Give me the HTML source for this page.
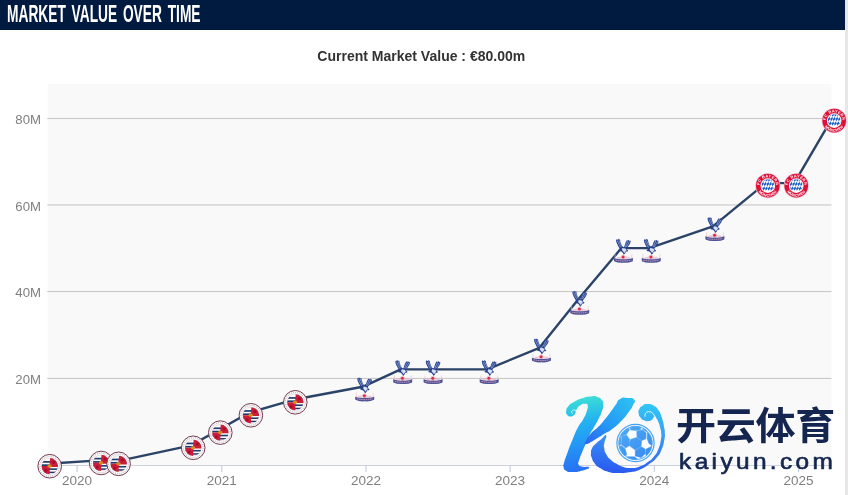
<!DOCTYPE html>
<html lang="en"><head><meta charset="utf-8"><title>Market Value Over Time</title>
<style>
html,body{margin:0;padding:0;background:#fff;}
body{width:848px;height:495px;position:relative;overflow:hidden;font-family:"Liberation Sans","Noto Sans CJK SC",sans-serif;}
.strip{position:absolute;left:845px;top:0;width:3px;height:495px;background:#e7e7e7;}
.hdr{position:absolute;left:0;top:0;width:845px;height:29.5px;background:#011b40;}
.hdr h2{margin:0;position:absolute;left:7.3px;top:1px;height:29px;line-height:27px;font-size:23.6px;font-weight:700;color:#fff;white-space:nowrap;transform-origin:0 50%;transform:scaleX(0.583);letter-spacing:0;word-spacing:3.3px;}
.ttl{position:absolute;left:0;top:46px;width:842px;text-align:center;font-size:14.6px;font-weight:700;color:#333;line-height:20px;white-space:nowrap;}
.ttl span{display:inline-block;transform:scaleX(0.96);}
svg.chart{position:absolute;left:0;top:0;}
svg.chart text{font-family:"Liberation Sans",sans-serif;font-size:13.2px;fill:#7f7f7f;}
svg.chart text.cjk{font-family:"Liberation Sans","Noto Sans CJK SC",sans-serif;}
</style></head>
<body>
<div class="strip"></div>
<div class="hdr"><h2>MARKET VALUE OVER TIME</h2></div>
<div class="ttl"><span>Current Market Value : €80.00m</span></div>
<svg class="chart" width="848" height="495" viewBox="0 0 848 495">
<rect x="47.7" y="84" width="783.8" height="381.5" fill="#f9f9f9"/>
<rect x="47.3" y="117.95" width="784.2" height="1.1" fill="#c8c8c8"/><rect x="47.3" y="204.40" width="784.2" height="1.1" fill="#c8c8c8"/><rect x="47.3" y="291.00" width="784.2" height="1.1" fill="#c8c8c8"/><rect x="47.3" y="377.90" width="784.2" height="1.1" fill="#c8c8c8"/>
<rect x="48" y="465" width="783.5" height="1" fill="#ccd1dd"/>
<rect x="76.6" y="465" width="1" height="7" fill="#bcc5d8"/><rect x="221.3" y="465" width="1" height="7" fill="#bcc5d8"/><rect x="365.5" y="465" width="1" height="7" fill="#bcc5d8"/><rect x="509.6" y="465" width="1" height="7" fill="#bcc5d8"/><rect x="653.8" y="465" width="1" height="7" fill="#bcc5d8"/><rect x="798.1" y="465" width="1" height="7" fill="#bcc5d8"/>
<g><text x="41" y="123.9" text-anchor="end">80M</text><text x="41" y="210.6" text-anchor="end">60M</text><text x="41" y="297.2" text-anchor="end">40M</text><text x="41" y="383.9" text-anchor="end">20M</text></g>
<g><text x="77.1" y="484.8" text-anchor="middle" style="font-size:13.5px">2020</text><text x="221.8" y="484.8" text-anchor="middle" style="font-size:13.5px">2021</text><text x="366.0" y="484.8" text-anchor="middle" style="font-size:13.5px">2022</text><text x="510.1" y="484.8" text-anchor="middle" style="font-size:13.5px">2023</text><text x="654.3" y="484.8" text-anchor="middle" style="font-size:13.5px">2024</text><text x="798.6" y="484.8" text-anchor="middle" style="font-size:13.5px">2025</text></g>
<path d="M47.7 463.7 L99.1 460.4 L116.6 461.3 L191.2 445.3 L218.3 430.1 L248.9 412.8 L293.3 399.8 L362.7 386.8 L400.7 369.4 L431.1 369.4 L487.2 369.4 L539.4 347.8 L577.7 300.1 L621.4 248.1 L649.2 248.1 L712.9 226.4 L765.8 183.1 L794.2 183.1 L832.2 118.1" fill="none" stroke="#2a4367" stroke-width="2.4" stroke-linejoin="round" stroke-linecap="round"/>
<g><svg x="37.20" y="453.72" width="25" height="25" viewBox="0 0 25 25" overflow="visible"><circle cx="12.5" cy="12.5" r="11.8" fill="#fff" stroke="#6a2f48" stroke-width="0.95"/>
<circle cx="12.5" cy="12.5" r="9.9" fill="none" stroke="#cfc6cc" stroke-width="1.5" stroke-dasharray="1.1 0.9"/>
<clipPath id="rdc0"><circle cx="12.5" cy="12.5" r="8.1"/></clipPath>
<g clip-path="url(#rdc0)">
<rect x="4" y="4" width="17" height="17" fill="#fff"/>
<rect x="4" y="7.3" width="17" height="1.7" fill="#1f3a6e"/>
<rect x="4" y="10.6" width="17" height="1.7" fill="#1f3a6e"/>
<rect x="4" y="14.6" width="17" height="1.6" fill="#1f3a6e"/>
<rect x="4" y="17.9" width="17" height="1.5" fill="#1f3a6e"/>
<path d="M13 4 H21 V13.2 H14.5 L12.2 12.5 Z" fill="#cb1d3a"/>
<path d="M12.4 21 H4 V12.4 H10.5 L12.8 12.6 Z" fill="#cb1d3a"/>
<circle cx="16.4" cy="8.6" r="1.5" fill="#a80c28"/>
<circle cx="8.6" cy="16.6" r="1.5" fill="#a80c28"/>
</g>
<circle cx="12.5" cy="12.5" r="8.1" fill="none" stroke="#7d3446" stroke-opacity="0.35" stroke-width="0.5"/>
<ellipse cx="12.3" cy="12.4" rx="2.2" ry="1.8" fill="#dc8a1e"/></svg>
<svg x="88.60" y="450.47" width="25" height="25" viewBox="0 0 25 25" overflow="visible"><circle cx="12.5" cy="12.5" r="11.8" fill="#fff" stroke="#6a2f48" stroke-width="0.95"/>
<circle cx="12.5" cy="12.5" r="9.9" fill="none" stroke="#cfc6cc" stroke-width="1.5" stroke-dasharray="1.1 0.9"/>
<clipPath id="rdc1"><circle cx="12.5" cy="12.5" r="8.1"/></clipPath>
<g clip-path="url(#rdc1)">
<rect x="4" y="4" width="17" height="17" fill="#fff"/>
<rect x="4" y="7.3" width="17" height="1.7" fill="#1f3a6e"/>
<rect x="4" y="10.6" width="17" height="1.7" fill="#1f3a6e"/>
<rect x="4" y="14.6" width="17" height="1.6" fill="#1f3a6e"/>
<rect x="4" y="17.9" width="17" height="1.5" fill="#1f3a6e"/>
<path d="M13 4 H21 V13.2 H14.5 L12.2 12.5 Z" fill="#cb1d3a"/>
<path d="M12.4 21 H4 V12.4 H10.5 L12.8 12.6 Z" fill="#cb1d3a"/>
<circle cx="16.4" cy="8.6" r="1.5" fill="#a80c28"/>
<circle cx="8.6" cy="16.6" r="1.5" fill="#a80c28"/>
</g>
<circle cx="12.5" cy="12.5" r="8.1" fill="none" stroke="#7d3446" stroke-opacity="0.35" stroke-width="0.5"/>
<ellipse cx="12.3" cy="12.4" rx="2.2" ry="1.8" fill="#dc8a1e"/></svg>
<svg x="106.10" y="451.33" width="25" height="25" viewBox="0 0 25 25" overflow="visible"><circle cx="12.5" cy="12.5" r="11.8" fill="#fff" stroke="#6a2f48" stroke-width="0.95"/>
<circle cx="12.5" cy="12.5" r="9.9" fill="none" stroke="#cfc6cc" stroke-width="1.5" stroke-dasharray="1.1 0.9"/>
<clipPath id="rdc2"><circle cx="12.5" cy="12.5" r="8.1"/></clipPath>
<g clip-path="url(#rdc2)">
<rect x="4" y="4" width="17" height="17" fill="#fff"/>
<rect x="4" y="7.3" width="17" height="1.7" fill="#1f3a6e"/>
<rect x="4" y="10.6" width="17" height="1.7" fill="#1f3a6e"/>
<rect x="4" y="14.6" width="17" height="1.6" fill="#1f3a6e"/>
<rect x="4" y="17.9" width="17" height="1.5" fill="#1f3a6e"/>
<path d="M13 4 H21 V13.2 H14.5 L12.2 12.5 Z" fill="#cb1d3a"/>
<path d="M12.4 21 H4 V12.4 H10.5 L12.8 12.6 Z" fill="#cb1d3a"/>
<circle cx="16.4" cy="8.6" r="1.5" fill="#a80c28"/>
<circle cx="8.6" cy="16.6" r="1.5" fill="#a80c28"/>
</g>
<circle cx="12.5" cy="12.5" r="8.1" fill="none" stroke="#7d3446" stroke-opacity="0.35" stroke-width="0.5"/>
<ellipse cx="12.3" cy="12.4" rx="2.2" ry="1.8" fill="#dc8a1e"/></svg>
<svg x="180.70" y="435.30" width="25" height="25" viewBox="0 0 25 25" overflow="visible"><circle cx="12.5" cy="12.5" r="11.8" fill="#fff" stroke="#6a2f48" stroke-width="0.95"/>
<circle cx="12.5" cy="12.5" r="9.9" fill="none" stroke="#cfc6cc" stroke-width="1.5" stroke-dasharray="1.1 0.9"/>
<clipPath id="rdc3"><circle cx="12.5" cy="12.5" r="8.1"/></clipPath>
<g clip-path="url(#rdc3)">
<rect x="4" y="4" width="17" height="17" fill="#fff"/>
<rect x="4" y="7.3" width="17" height="1.7" fill="#1f3a6e"/>
<rect x="4" y="10.6" width="17" height="1.7" fill="#1f3a6e"/>
<rect x="4" y="14.6" width="17" height="1.6" fill="#1f3a6e"/>
<rect x="4" y="17.9" width="17" height="1.5" fill="#1f3a6e"/>
<path d="M13 4 H21 V13.2 H14.5 L12.2 12.5 Z" fill="#cb1d3a"/>
<path d="M12.4 21 H4 V12.4 H10.5 L12.8 12.6 Z" fill="#cb1d3a"/>
<circle cx="16.4" cy="8.6" r="1.5" fill="#a80c28"/>
<circle cx="8.6" cy="16.6" r="1.5" fill="#a80c28"/>
</g>
<circle cx="12.5" cy="12.5" r="8.1" fill="none" stroke="#7d3446" stroke-opacity="0.35" stroke-width="0.5"/>
<ellipse cx="12.3" cy="12.4" rx="2.2" ry="1.8" fill="#dc8a1e"/></svg>
<svg x="207.80" y="420.13" width="25" height="25" viewBox="0 0 25 25" overflow="visible"><circle cx="12.5" cy="12.5" r="11.8" fill="#fff" stroke="#6a2f48" stroke-width="0.95"/>
<circle cx="12.5" cy="12.5" r="9.9" fill="none" stroke="#cfc6cc" stroke-width="1.5" stroke-dasharray="1.1 0.9"/>
<clipPath id="rdc4"><circle cx="12.5" cy="12.5" r="8.1"/></clipPath>
<g clip-path="url(#rdc4)">
<rect x="4" y="4" width="17" height="17" fill="#fff"/>
<rect x="4" y="7.3" width="17" height="1.7" fill="#1f3a6e"/>
<rect x="4" y="10.6" width="17" height="1.7" fill="#1f3a6e"/>
<rect x="4" y="14.6" width="17" height="1.6" fill="#1f3a6e"/>
<rect x="4" y="17.9" width="17" height="1.5" fill="#1f3a6e"/>
<path d="M13 4 H21 V13.2 H14.5 L12.2 12.5 Z" fill="#cb1d3a"/>
<path d="M12.4 21 H4 V12.4 H10.5 L12.8 12.6 Z" fill="#cb1d3a"/>
<circle cx="16.4" cy="8.6" r="1.5" fill="#a80c28"/>
<circle cx="8.6" cy="16.6" r="1.5" fill="#a80c28"/>
</g>
<circle cx="12.5" cy="12.5" r="8.1" fill="none" stroke="#7d3446" stroke-opacity="0.35" stroke-width="0.5"/>
<ellipse cx="12.3" cy="12.4" rx="2.2" ry="1.8" fill="#dc8a1e"/></svg>
<svg x="238.40" y="402.80" width="25" height="25" viewBox="0 0 25 25" overflow="visible"><circle cx="12.5" cy="12.5" r="11.8" fill="#fff" stroke="#6a2f48" stroke-width="0.95"/>
<circle cx="12.5" cy="12.5" r="9.9" fill="none" stroke="#cfc6cc" stroke-width="1.5" stroke-dasharray="1.1 0.9"/>
<clipPath id="rdc5"><circle cx="12.5" cy="12.5" r="8.1"/></clipPath>
<g clip-path="url(#rdc5)">
<rect x="4" y="4" width="17" height="17" fill="#fff"/>
<rect x="4" y="7.3" width="17" height="1.7" fill="#1f3a6e"/>
<rect x="4" y="10.6" width="17" height="1.7" fill="#1f3a6e"/>
<rect x="4" y="14.6" width="17" height="1.6" fill="#1f3a6e"/>
<rect x="4" y="17.9" width="17" height="1.5" fill="#1f3a6e"/>
<path d="M13 4 H21 V13.2 H14.5 L12.2 12.5 Z" fill="#cb1d3a"/>
<path d="M12.4 21 H4 V12.4 H10.5 L12.8 12.6 Z" fill="#cb1d3a"/>
<circle cx="16.4" cy="8.6" r="1.5" fill="#a80c28"/>
<circle cx="8.6" cy="16.6" r="1.5" fill="#a80c28"/>
</g>
<circle cx="12.5" cy="12.5" r="8.1" fill="none" stroke="#7d3446" stroke-opacity="0.35" stroke-width="0.5"/>
<ellipse cx="12.3" cy="12.4" rx="2.2" ry="1.8" fill="#dc8a1e"/></svg>
<svg x="282.80" y="389.80" width="25" height="25" viewBox="0 0 25 25" overflow="visible"><circle cx="12.5" cy="12.5" r="11.8" fill="#fff" stroke="#6a2f48" stroke-width="0.95"/>
<circle cx="12.5" cy="12.5" r="9.9" fill="none" stroke="#cfc6cc" stroke-width="1.5" stroke-dasharray="1.1 0.9"/>
<clipPath id="rdc6"><circle cx="12.5" cy="12.5" r="8.1"/></clipPath>
<g clip-path="url(#rdc6)">
<rect x="4" y="4" width="17" height="17" fill="#fff"/>
<rect x="4" y="7.3" width="17" height="1.7" fill="#1f3a6e"/>
<rect x="4" y="10.6" width="17" height="1.7" fill="#1f3a6e"/>
<rect x="4" y="14.6" width="17" height="1.6" fill="#1f3a6e"/>
<rect x="4" y="17.9" width="17" height="1.5" fill="#1f3a6e"/>
<path d="M13 4 H21 V13.2 H14.5 L12.2 12.5 Z" fill="#cb1d3a"/>
<path d="M12.4 21 H4 V12.4 H10.5 L12.8 12.6 Z" fill="#cb1d3a"/>
<circle cx="16.4" cy="8.6" r="1.5" fill="#a80c28"/>
<circle cx="8.6" cy="16.6" r="1.5" fill="#a80c28"/>
</g>
<circle cx="12.5" cy="12.5" r="8.1" fill="none" stroke="#7d3446" stroke-opacity="0.35" stroke-width="0.5"/>
<ellipse cx="12.3" cy="12.4" rx="2.2" ry="1.8" fill="#dc8a1e"/></svg>
<svg x="354.70" y="376.80" width="20" height="25" viewBox="0 0 20 25" overflow="visible"><path d="M2.6 2 L3.6 0.8 L4.2 1.8 L5.2 0.6 L5.8 1.6 L6.6 1.2 L7 3.8 L8.2 6.8 L9.8 9.2 L10.6 9.4 L11.2 7.4 L12.2 4.4 L13.6 1.8 L14.4 2.6 L15.4 1.6 L16 2.8 L17 2.4 L17.2 3.8 L16.4 5.8 L14.8 8 L13.2 10 L13.4 11.4 L14.8 12.4 L14.2 13.4 L12.6 13.4 L11.8 15 L10.4 16.6 L9.4 14.6 L8 13.4 L5.6 12.8 L5.4 11.6 L6.8 11 L5.6 9.4 L4.2 6.8 L3 4.2 Z" fill="#27418c"/>
<path d="M9 9.8 L10.6 10 L12.4 10.6 L13.2 12.2 L12.2 13 L11 14.8 L9.8 13.4 L8.4 11.8 Z" fill="#d6dff4"/>
<path d="M3.8 2.4 L5.4 6 L7.2 9.2 M5.4 2 L6.6 5.2 L8.4 8.4 M16.2 3.4 L14.4 6.4 L12.8 9 M14.6 2.8 L13 5.8 L11.8 8.8" stroke="#b4c5ee" stroke-width="0.6" fill="none"/>
<path d="M1.7 16 V20.4 M18.5 16 V20.4" stroke="#e6bcc8" stroke-width="0.8" stroke-opacity="0.8" fill="none"/>
<path d="M2.6 21 L3.6 19 L7 18.6 Q7.6 16.8 9.7 16.6 Q11.8 16.8 12.4 18.6 L16.4 19 L17.4 21 Z" fill="#e8a9ba" fill-opacity="0.6"/>
<circle cx="9.7" cy="18.9" r="1.5" fill="#d62f4d"/>
<path d="M0.4 19.9 Q5 21.6 10 21 Q15 21.6 19.6 19.9 L19.4 23 Q15 25 10 24.5 Q5 25 0.6 23 Z" fill="#4d5198"/>
<path d="M2.2 22 Q10 23.7 17.8 22" stroke="#dcaabd" stroke-width="0.9" fill="none" stroke-dasharray="1.5 0.7"/></svg>
<svg x="392.70" y="359.47" width="20" height="25" viewBox="0 0 20 25" overflow="visible"><path d="M2.6 2 L3.6 0.8 L4.2 1.8 L5.2 0.6 L5.8 1.6 L6.6 1.2 L7 3.8 L8.2 6.8 L9.8 9.2 L10.6 9.4 L11.2 7.4 L12.2 4.4 L13.6 1.8 L14.4 2.6 L15.4 1.6 L16 2.8 L17 2.4 L17.2 3.8 L16.4 5.8 L14.8 8 L13.2 10 L13.4 11.4 L14.8 12.4 L14.2 13.4 L12.6 13.4 L11.8 15 L10.4 16.6 L9.4 14.6 L8 13.4 L5.6 12.8 L5.4 11.6 L6.8 11 L5.6 9.4 L4.2 6.8 L3 4.2 Z" fill="#27418c"/>
<path d="M9 9.8 L10.6 10 L12.4 10.6 L13.2 12.2 L12.2 13 L11 14.8 L9.8 13.4 L8.4 11.8 Z" fill="#d6dff4"/>
<path d="M3.8 2.4 L5.4 6 L7.2 9.2 M5.4 2 L6.6 5.2 L8.4 8.4 M16.2 3.4 L14.4 6.4 L12.8 9 M14.6 2.8 L13 5.8 L11.8 8.8" stroke="#b4c5ee" stroke-width="0.6" fill="none"/>
<path d="M1.7 16 V20.4 M18.5 16 V20.4" stroke="#e6bcc8" stroke-width="0.8" stroke-opacity="0.8" fill="none"/>
<path d="M2.6 21 L3.6 19 L7 18.6 Q7.6 16.8 9.7 16.6 Q11.8 16.8 12.4 18.6 L16.4 19 L17.4 21 Z" fill="#e8a9ba" fill-opacity="0.6"/>
<circle cx="9.7" cy="18.9" r="1.5" fill="#d62f4d"/>
<path d="M0.4 19.9 Q5 21.6 10 21 Q15 21.6 19.6 19.9 L19.4 23 Q15 25 10 24.5 Q5 25 0.6 23 Z" fill="#4d5198"/>
<path d="M2.2 22 Q10 23.7 17.8 22" stroke="#dcaabd" stroke-width="0.9" fill="none" stroke-dasharray="1.5 0.7"/></svg>
<svg x="423.10" y="359.47" width="20" height="25" viewBox="0 0 20 25" overflow="visible"><path d="M2.6 2 L3.6 0.8 L4.2 1.8 L5.2 0.6 L5.8 1.6 L6.6 1.2 L7 3.8 L8.2 6.8 L9.8 9.2 L10.6 9.4 L11.2 7.4 L12.2 4.4 L13.6 1.8 L14.4 2.6 L15.4 1.6 L16 2.8 L17 2.4 L17.2 3.8 L16.4 5.8 L14.8 8 L13.2 10 L13.4 11.4 L14.8 12.4 L14.2 13.4 L12.6 13.4 L11.8 15 L10.4 16.6 L9.4 14.6 L8 13.4 L5.6 12.8 L5.4 11.6 L6.8 11 L5.6 9.4 L4.2 6.8 L3 4.2 Z" fill="#27418c"/>
<path d="M9 9.8 L10.6 10 L12.4 10.6 L13.2 12.2 L12.2 13 L11 14.8 L9.8 13.4 L8.4 11.8 Z" fill="#d6dff4"/>
<path d="M3.8 2.4 L5.4 6 L7.2 9.2 M5.4 2 L6.6 5.2 L8.4 8.4 M16.2 3.4 L14.4 6.4 L12.8 9 M14.6 2.8 L13 5.8 L11.8 8.8" stroke="#b4c5ee" stroke-width="0.6" fill="none"/>
<path d="M1.7 16 V20.4 M18.5 16 V20.4" stroke="#e6bcc8" stroke-width="0.8" stroke-opacity="0.8" fill="none"/>
<path d="M2.6 21 L3.6 19 L7 18.6 Q7.6 16.8 9.7 16.6 Q11.8 16.8 12.4 18.6 L16.4 19 L17.4 21 Z" fill="#e8a9ba" fill-opacity="0.6"/>
<circle cx="9.7" cy="18.9" r="1.5" fill="#d62f4d"/>
<path d="M0.4 19.9 Q5 21.6 10 21 Q15 21.6 19.6 19.9 L19.4 23 Q15 25 10 24.5 Q5 25 0.6 23 Z" fill="#4d5198"/>
<path d="M2.2 22 Q10 23.7 17.8 22" stroke="#dcaabd" stroke-width="0.9" fill="none" stroke-dasharray="1.5 0.7"/></svg>
<svg x="479.20" y="359.47" width="20" height="25" viewBox="0 0 20 25" overflow="visible"><path d="M2.6 2 L3.6 0.8 L4.2 1.8 L5.2 0.6 L5.8 1.6 L6.6 1.2 L7 3.8 L8.2 6.8 L9.8 9.2 L10.6 9.4 L11.2 7.4 L12.2 4.4 L13.6 1.8 L14.4 2.6 L15.4 1.6 L16 2.8 L17 2.4 L17.2 3.8 L16.4 5.8 L14.8 8 L13.2 10 L13.4 11.4 L14.8 12.4 L14.2 13.4 L12.6 13.4 L11.8 15 L10.4 16.6 L9.4 14.6 L8 13.4 L5.6 12.8 L5.4 11.6 L6.8 11 L5.6 9.4 L4.2 6.8 L3 4.2 Z" fill="#27418c"/>
<path d="M9 9.8 L10.6 10 L12.4 10.6 L13.2 12.2 L12.2 13 L11 14.8 L9.8 13.4 L8.4 11.8 Z" fill="#d6dff4"/>
<path d="M3.8 2.4 L5.4 6 L7.2 9.2 M5.4 2 L6.6 5.2 L8.4 8.4 M16.2 3.4 L14.4 6.4 L12.8 9 M14.6 2.8 L13 5.8 L11.8 8.8" stroke="#b4c5ee" stroke-width="0.6" fill="none"/>
<path d="M1.7 16 V20.4 M18.5 16 V20.4" stroke="#e6bcc8" stroke-width="0.8" stroke-opacity="0.8" fill="none"/>
<path d="M2.6 21 L3.6 19 L7 18.6 Q7.6 16.8 9.7 16.6 Q11.8 16.8 12.4 18.6 L16.4 19 L17.4 21 Z" fill="#e8a9ba" fill-opacity="0.6"/>
<circle cx="9.7" cy="18.9" r="1.5" fill="#d62f4d"/>
<path d="M0.4 19.9 Q5 21.6 10 21 Q15 21.6 19.6 19.9 L19.4 23 Q15 25 10 24.5 Q5 25 0.6 23 Z" fill="#4d5198"/>
<path d="M2.2 22 Q10 23.7 17.8 22" stroke="#dcaabd" stroke-width="0.9" fill="none" stroke-dasharray="1.5 0.7"/></svg>
<svg x="531.40" y="337.80" width="20" height="25" viewBox="0 0 20 25" overflow="visible"><path d="M2.6 2 L3.6 0.8 L4.2 1.8 L5.2 0.6 L5.8 1.6 L6.6 1.2 L7 3.8 L8.2 6.8 L9.8 9.2 L10.6 9.4 L11.2 7.4 L12.2 4.4 L13.6 1.8 L14.4 2.6 L15.4 1.6 L16 2.8 L17 2.4 L17.2 3.8 L16.4 5.8 L14.8 8 L13.2 10 L13.4 11.4 L14.8 12.4 L14.2 13.4 L12.6 13.4 L11.8 15 L10.4 16.6 L9.4 14.6 L8 13.4 L5.6 12.8 L5.4 11.6 L6.8 11 L5.6 9.4 L4.2 6.8 L3 4.2 Z" fill="#27418c"/>
<path d="M9 9.8 L10.6 10 L12.4 10.6 L13.2 12.2 L12.2 13 L11 14.8 L9.8 13.4 L8.4 11.8 Z" fill="#d6dff4"/>
<path d="M3.8 2.4 L5.4 6 L7.2 9.2 M5.4 2 L6.6 5.2 L8.4 8.4 M16.2 3.4 L14.4 6.4 L12.8 9 M14.6 2.8 L13 5.8 L11.8 8.8" stroke="#b4c5ee" stroke-width="0.6" fill="none"/>
<path d="M1.7 16 V20.4 M18.5 16 V20.4" stroke="#e6bcc8" stroke-width="0.8" stroke-opacity="0.8" fill="none"/>
<path d="M2.6 21 L3.6 19 L7 18.6 Q7.6 16.8 9.7 16.6 Q11.8 16.8 12.4 18.6 L16.4 19 L17.4 21 Z" fill="#e8a9ba" fill-opacity="0.6"/>
<circle cx="9.7" cy="18.9" r="1.5" fill="#d62f4d"/>
<path d="M0.4 19.9 Q5 21.6 10 21 Q15 21.6 19.6 19.9 L19.4 23 Q15 25 10 24.5 Q5 25 0.6 23 Z" fill="#4d5198"/>
<path d="M2.2 22 Q10 23.7 17.8 22" stroke="#dcaabd" stroke-width="0.9" fill="none" stroke-dasharray="1.5 0.7"/></svg>
<svg x="569.70" y="290.13" width="20" height="25" viewBox="0 0 20 25" overflow="visible"><path d="M2.6 2 L3.6 0.8 L4.2 1.8 L5.2 0.6 L5.8 1.6 L6.6 1.2 L7 3.8 L8.2 6.8 L9.8 9.2 L10.6 9.4 L11.2 7.4 L12.2 4.4 L13.6 1.8 L14.4 2.6 L15.4 1.6 L16 2.8 L17 2.4 L17.2 3.8 L16.4 5.8 L14.8 8 L13.2 10 L13.4 11.4 L14.8 12.4 L14.2 13.4 L12.6 13.4 L11.8 15 L10.4 16.6 L9.4 14.6 L8 13.4 L5.6 12.8 L5.4 11.6 L6.8 11 L5.6 9.4 L4.2 6.8 L3 4.2 Z" fill="#27418c"/>
<path d="M9 9.8 L10.6 10 L12.4 10.6 L13.2 12.2 L12.2 13 L11 14.8 L9.8 13.4 L8.4 11.8 Z" fill="#d6dff4"/>
<path d="M3.8 2.4 L5.4 6 L7.2 9.2 M5.4 2 L6.6 5.2 L8.4 8.4 M16.2 3.4 L14.4 6.4 L12.8 9 M14.6 2.8 L13 5.8 L11.8 8.8" stroke="#b4c5ee" stroke-width="0.6" fill="none"/>
<path d="M1.7 16 V20.4 M18.5 16 V20.4" stroke="#e6bcc8" stroke-width="0.8" stroke-opacity="0.8" fill="none"/>
<path d="M2.6 21 L3.6 19 L7 18.6 Q7.6 16.8 9.7 16.6 Q11.8 16.8 12.4 18.6 L16.4 19 L17.4 21 Z" fill="#e8a9ba" fill-opacity="0.6"/>
<circle cx="9.7" cy="18.9" r="1.5" fill="#d62f4d"/>
<path d="M0.4 19.9 Q5 21.6 10 21 Q15 21.6 19.6 19.9 L19.4 23 Q15 25 10 24.5 Q5 25 0.6 23 Z" fill="#4d5198"/>
<path d="M2.2 22 Q10 23.7 17.8 22" stroke="#dcaabd" stroke-width="0.9" fill="none" stroke-dasharray="1.5 0.7"/></svg>
<svg x="613.40" y="238.13" width="20" height="25" viewBox="0 0 20 25" overflow="visible"><path d="M2.6 2 L3.6 0.8 L4.2 1.8 L5.2 0.6 L5.8 1.6 L6.6 1.2 L7 3.8 L8.2 6.8 L9.8 9.2 L10.6 9.4 L11.2 7.4 L12.2 4.4 L13.6 1.8 L14.4 2.6 L15.4 1.6 L16 2.8 L17 2.4 L17.2 3.8 L16.4 5.8 L14.8 8 L13.2 10 L13.4 11.4 L14.8 12.4 L14.2 13.4 L12.6 13.4 L11.8 15 L10.4 16.6 L9.4 14.6 L8 13.4 L5.6 12.8 L5.4 11.6 L6.8 11 L5.6 9.4 L4.2 6.8 L3 4.2 Z" fill="#27418c"/>
<path d="M9 9.8 L10.6 10 L12.4 10.6 L13.2 12.2 L12.2 13 L11 14.8 L9.8 13.4 L8.4 11.8 Z" fill="#d6dff4"/>
<path d="M3.8 2.4 L5.4 6 L7.2 9.2 M5.4 2 L6.6 5.2 L8.4 8.4 M16.2 3.4 L14.4 6.4 L12.8 9 M14.6 2.8 L13 5.8 L11.8 8.8" stroke="#b4c5ee" stroke-width="0.6" fill="none"/>
<path d="M1.7 16 V20.4 M18.5 16 V20.4" stroke="#e6bcc8" stroke-width="0.8" stroke-opacity="0.8" fill="none"/>
<path d="M2.6 21 L3.6 19 L7 18.6 Q7.6 16.8 9.7 16.6 Q11.8 16.8 12.4 18.6 L16.4 19 L17.4 21 Z" fill="#e8a9ba" fill-opacity="0.6"/>
<circle cx="9.7" cy="18.9" r="1.5" fill="#d62f4d"/>
<path d="M0.4 19.9 Q5 21.6 10 21 Q15 21.6 19.6 19.9 L19.4 23 Q15 25 10 24.5 Q5 25 0.6 23 Z" fill="#4d5198"/>
<path d="M2.2 22 Q10 23.7 17.8 22" stroke="#dcaabd" stroke-width="0.9" fill="none" stroke-dasharray="1.5 0.7"/></svg>
<svg x="641.25" y="238.13" width="20" height="25" viewBox="0 0 20 25" overflow="visible"><path d="M2.6 2 L3.6 0.8 L4.2 1.8 L5.2 0.6 L5.8 1.6 L6.6 1.2 L7 3.8 L8.2 6.8 L9.8 9.2 L10.6 9.4 L11.2 7.4 L12.2 4.4 L13.6 1.8 L14.4 2.6 L15.4 1.6 L16 2.8 L17 2.4 L17.2 3.8 L16.4 5.8 L14.8 8 L13.2 10 L13.4 11.4 L14.8 12.4 L14.2 13.4 L12.6 13.4 L11.8 15 L10.4 16.6 L9.4 14.6 L8 13.4 L5.6 12.8 L5.4 11.6 L6.8 11 L5.6 9.4 L4.2 6.8 L3 4.2 Z" fill="#27418c"/>
<path d="M9 9.8 L10.6 10 L12.4 10.6 L13.2 12.2 L12.2 13 L11 14.8 L9.8 13.4 L8.4 11.8 Z" fill="#d6dff4"/>
<path d="M3.8 2.4 L5.4 6 L7.2 9.2 M5.4 2 L6.6 5.2 L8.4 8.4 M16.2 3.4 L14.4 6.4 L12.8 9 M14.6 2.8 L13 5.8 L11.8 8.8" stroke="#b4c5ee" stroke-width="0.6" fill="none"/>
<path d="M1.7 16 V20.4 M18.5 16 V20.4" stroke="#e6bcc8" stroke-width="0.8" stroke-opacity="0.8" fill="none"/>
<path d="M2.6 21 L3.6 19 L7 18.6 Q7.6 16.8 9.7 16.6 Q11.8 16.8 12.4 18.6 L16.4 19 L17.4 21 Z" fill="#e8a9ba" fill-opacity="0.6"/>
<circle cx="9.7" cy="18.9" r="1.5" fill="#d62f4d"/>
<path d="M0.4 19.9 Q5 21.6 10 21 Q15 21.6 19.6 19.9 L19.4 23 Q15 25 10 24.5 Q5 25 0.6 23 Z" fill="#4d5198"/>
<path d="M2.2 22 Q10 23.7 17.8 22" stroke="#dcaabd" stroke-width="0.9" fill="none" stroke-dasharray="1.5 0.7"/></svg>
<svg x="704.90" y="216.47" width="20" height="25" viewBox="0 0 20 25" overflow="visible"><path d="M2.6 2 L3.6 0.8 L4.2 1.8 L5.2 0.6 L5.8 1.6 L6.6 1.2 L7 3.8 L8.2 6.8 L9.8 9.2 L10.6 9.4 L11.2 7.4 L12.2 4.4 L13.6 1.8 L14.4 2.6 L15.4 1.6 L16 2.8 L17 2.4 L17.2 3.8 L16.4 5.8 L14.8 8 L13.2 10 L13.4 11.4 L14.8 12.4 L14.2 13.4 L12.6 13.4 L11.8 15 L10.4 16.6 L9.4 14.6 L8 13.4 L5.6 12.8 L5.4 11.6 L6.8 11 L5.6 9.4 L4.2 6.8 L3 4.2 Z" fill="#27418c"/>
<path d="M9 9.8 L10.6 10 L12.4 10.6 L13.2 12.2 L12.2 13 L11 14.8 L9.8 13.4 L8.4 11.8 Z" fill="#d6dff4"/>
<path d="M3.8 2.4 L5.4 6 L7.2 9.2 M5.4 2 L6.6 5.2 L8.4 8.4 M16.2 3.4 L14.4 6.4 L12.8 9 M14.6 2.8 L13 5.8 L11.8 8.8" stroke="#b4c5ee" stroke-width="0.6" fill="none"/>
<path d="M1.7 16 V20.4 M18.5 16 V20.4" stroke="#e6bcc8" stroke-width="0.8" stroke-opacity="0.8" fill="none"/>
<path d="M2.6 21 L3.6 19 L7 18.6 Q7.6 16.8 9.7 16.6 Q11.8 16.8 12.4 18.6 L16.4 19 L17.4 21 Z" fill="#e8a9ba" fill-opacity="0.6"/>
<circle cx="9.7" cy="18.9" r="1.5" fill="#d62f4d"/>
<path d="M0.4 19.9 Q5 21.6 10 21 Q15 21.6 19.6 19.9 L19.4 23 Q15 25 10 24.5 Q5 25 0.6 23 Z" fill="#4d5198"/>
<path d="M2.2 22 Q10 23.7 17.8 22" stroke="#dcaabd" stroke-width="0.9" fill="none" stroke-dasharray="1.5 0.7"/></svg>
<svg x="755.30" y="173.14" width="25" height="25" viewBox="0 0 25 25" overflow="visible"><circle cx="12.5" cy="12.5" r="12.5" fill="#ecbcd2"/>
<circle cx="12.5" cy="12.5" r="11.8" fill="#de1038"/>
<circle cx="12.5" cy="12.5" r="7.3" fill="#fff"/>
<clipPath id="byc16"><circle cx="12.5" cy="12.5" r="6.5"/></clipPath>
<g clip-path="url(#byc16)">
<rect x="6" y="6" width="13" height="13" fill="#fff"/>
<g fill="#1e5fc8" transform="translate(12.5 12.5) skewX(-18)">
<path d="M-7 -6 l1.3 -2.2 l1.3 2.2 l-1.3 2.2z M-4.4 -6 l1.3 -2.2 l1.3 2.2 l-1.3 2.2z M-1.8 -6 l1.3 -2.2 l1.3 2.2 l-1.3 2.2z M0.8 -6 l1.3 -2.2 l1.3 2.2 l-1.3 2.2z M3.4 -6 l1.3 -2.2 l1.3 2.2 l-1.3 2.2z M6 -6 l1.3 -2.2 l1.3 2.2 l-1.3 2.2z"/>
<path d="M-7 -1.6 l1.3 -2.2 l1.3 2.2 l-1.3 2.2z M-4.4 -1.6 l1.3 -2.2 l1.3 2.2 l-1.3 2.2z M-1.8 -1.6 l1.3 -2.2 l1.3 2.2 l-1.3 2.2z M0.8 -1.6 l1.3 -2.2 l1.3 2.2 l-1.3 2.2z M3.4 -1.6 l1.3 -2.2 l1.3 2.2 l-1.3 2.2z M6 -1.6 l1.3 -2.2 l1.3 2.2 l-1.3 2.2z"/>
<path d="M-7 2.8 l1.3 -2.2 l1.3 2.2 l-1.3 2.2z M-4.4 2.8 l1.3 -2.2 l1.3 2.2 l-1.3 2.2z M-1.8 2.8 l1.3 -2.2 l1.3 2.2 l-1.3 2.2z M0.8 2.8 l1.3 -2.2 l1.3 2.2 l-1.3 2.2z M3.4 2.8 l1.3 -2.2 l1.3 2.2 l-1.3 2.2z M6 2.8 l1.3 -2.2 l1.3 2.2 l-1.3 2.2z"/>
</g></g>
<path id="byt16" d="M4.2 12.5 A8.3 8.3 0 0 1 20.8 12.5" fill="none"/>
<path id="byb16" d="M1.5 12.5 A11 11 0 0 0 23.5 12.5" fill="none"/>
<text style="font-family:'Liberation Sans',sans-serif;font-size:3.8px;font-weight:700;fill:#fff;letter-spacing:0.35px" text-anchor="middle"><textPath href="#byt16" startOffset="50%">FC BAYERN</textPath></text>
<text style="font-family:'Liberation Sans',sans-serif;font-size:3.8px;font-weight:700;fill:#fff;letter-spacing:0.35px" text-anchor="middle"><textPath href="#byb16" startOffset="50%">MÜNCHEN</textPath></text></svg>
<svg x="783.75" y="173.14" width="25" height="25" viewBox="0 0 25 25" overflow="visible"><circle cx="12.5" cy="12.5" r="12.5" fill="#ecbcd2"/>
<circle cx="12.5" cy="12.5" r="11.8" fill="#de1038"/>
<circle cx="12.5" cy="12.5" r="7.3" fill="#fff"/>
<clipPath id="byc17"><circle cx="12.5" cy="12.5" r="6.5"/></clipPath>
<g clip-path="url(#byc17)">
<rect x="6" y="6" width="13" height="13" fill="#fff"/>
<g fill="#1e5fc8" transform="translate(12.5 12.5) skewX(-18)">
<path d="M-7 -6 l1.3 -2.2 l1.3 2.2 l-1.3 2.2z M-4.4 -6 l1.3 -2.2 l1.3 2.2 l-1.3 2.2z M-1.8 -6 l1.3 -2.2 l1.3 2.2 l-1.3 2.2z M0.8 -6 l1.3 -2.2 l1.3 2.2 l-1.3 2.2z M3.4 -6 l1.3 -2.2 l1.3 2.2 l-1.3 2.2z M6 -6 l1.3 -2.2 l1.3 2.2 l-1.3 2.2z"/>
<path d="M-7 -1.6 l1.3 -2.2 l1.3 2.2 l-1.3 2.2z M-4.4 -1.6 l1.3 -2.2 l1.3 2.2 l-1.3 2.2z M-1.8 -1.6 l1.3 -2.2 l1.3 2.2 l-1.3 2.2z M0.8 -1.6 l1.3 -2.2 l1.3 2.2 l-1.3 2.2z M3.4 -1.6 l1.3 -2.2 l1.3 2.2 l-1.3 2.2z M6 -1.6 l1.3 -2.2 l1.3 2.2 l-1.3 2.2z"/>
<path d="M-7 2.8 l1.3 -2.2 l1.3 2.2 l-1.3 2.2z M-4.4 2.8 l1.3 -2.2 l1.3 2.2 l-1.3 2.2z M-1.8 2.8 l1.3 -2.2 l1.3 2.2 l-1.3 2.2z M0.8 2.8 l1.3 -2.2 l1.3 2.2 l-1.3 2.2z M3.4 2.8 l1.3 -2.2 l1.3 2.2 l-1.3 2.2z M6 2.8 l1.3 -2.2 l1.3 2.2 l-1.3 2.2z"/>
</g></g>
<path id="byt17" d="M4.2 12.5 A8.3 8.3 0 0 1 20.8 12.5" fill="none"/>
<path id="byb17" d="M1.5 12.5 A11 11 0 0 0 23.5 12.5" fill="none"/>
<text style="font-family:'Liberation Sans',sans-serif;font-size:3.8px;font-weight:700;fill:#fff;letter-spacing:0.35px" text-anchor="middle"><textPath href="#byt17" startOffset="50%">FC BAYERN</textPath></text>
<text style="font-family:'Liberation Sans',sans-serif;font-size:3.8px;font-weight:700;fill:#fff;letter-spacing:0.35px" text-anchor="middle"><textPath href="#byb17" startOffset="50%">MÜNCHEN</textPath></text></svg>
<svg x="821.70" y="108.14" width="25" height="25" viewBox="0 0 25 25" overflow="visible"><circle cx="12.5" cy="12.5" r="12.5" fill="#ecbcd2"/>
<circle cx="12.5" cy="12.5" r="11.8" fill="#de1038"/>
<circle cx="12.5" cy="12.5" r="7.3" fill="#fff"/>
<clipPath id="byc18"><circle cx="12.5" cy="12.5" r="6.5"/></clipPath>
<g clip-path="url(#byc18)">
<rect x="6" y="6" width="13" height="13" fill="#fff"/>
<g fill="#1e5fc8" transform="translate(12.5 12.5) skewX(-18)">
<path d="M-7 -6 l1.3 -2.2 l1.3 2.2 l-1.3 2.2z M-4.4 -6 l1.3 -2.2 l1.3 2.2 l-1.3 2.2z M-1.8 -6 l1.3 -2.2 l1.3 2.2 l-1.3 2.2z M0.8 -6 l1.3 -2.2 l1.3 2.2 l-1.3 2.2z M3.4 -6 l1.3 -2.2 l1.3 2.2 l-1.3 2.2z M6 -6 l1.3 -2.2 l1.3 2.2 l-1.3 2.2z"/>
<path d="M-7 -1.6 l1.3 -2.2 l1.3 2.2 l-1.3 2.2z M-4.4 -1.6 l1.3 -2.2 l1.3 2.2 l-1.3 2.2z M-1.8 -1.6 l1.3 -2.2 l1.3 2.2 l-1.3 2.2z M0.8 -1.6 l1.3 -2.2 l1.3 2.2 l-1.3 2.2z M3.4 -1.6 l1.3 -2.2 l1.3 2.2 l-1.3 2.2z M6 -1.6 l1.3 -2.2 l1.3 2.2 l-1.3 2.2z"/>
<path d="M-7 2.8 l1.3 -2.2 l1.3 2.2 l-1.3 2.2z M-4.4 2.8 l1.3 -2.2 l1.3 2.2 l-1.3 2.2z M-1.8 2.8 l1.3 -2.2 l1.3 2.2 l-1.3 2.2z M0.8 2.8 l1.3 -2.2 l1.3 2.2 l-1.3 2.2z M3.4 2.8 l1.3 -2.2 l1.3 2.2 l-1.3 2.2z M6 2.8 l1.3 -2.2 l1.3 2.2 l-1.3 2.2z"/>
</g></g>
<path id="byt18" d="M4.2 12.5 A8.3 8.3 0 0 1 20.8 12.5" fill="none"/>
<path id="byb18" d="M1.5 12.5 A11 11 0 0 0 23.5 12.5" fill="none"/>
<text style="font-family:'Liberation Sans',sans-serif;font-size:3.8px;font-weight:700;fill:#fff;letter-spacing:0.35px" text-anchor="middle"><textPath href="#byt18" startOffset="50%">FC BAYERN</textPath></text>
<text style="font-family:'Liberation Sans',sans-serif;font-size:3.8px;font-weight:700;fill:#fff;letter-spacing:0.35px" text-anchor="middle"><textPath href="#byb18" startOffset="50%">MÜNCHEN</textPath></text></svg>
</g>
<g id="kaiyun">
<linearGradient id="kyg" gradientUnits="userSpaceOnUse" x1="600" y1="396" x2="612" y2="473">
<stop offset="0" stop-color="#3adcd8"/><stop offset="0.28" stop-color="#24b4f0"/><stop offset="0.6" stop-color="#2394f6"/><stop offset="1" stop-color="#2b66f2"/></linearGradient>
<linearGradient id="kyg2" gradientUnits="userSpaceOnUse" x1="630" y1="398" x2="590" y2="445">
<stop offset="0" stop-color="#2cc0f2"/><stop offset="0.6" stop-color="#2596f4"/><stop offset="1" stop-color="#2c68ee"/></linearGradient>
<linearGradient id="kyg3" gradientUnits="userSpaceOnUse" x1="640" y1="404" x2="632" y2="473">
<stop offset="0" stop-color="#30c6f6"/><stop offset="0.42" stop-color="#3a9cf5"/><stop offset="0.75" stop-color="#3278f3"/><stop offset="1" stop-color="#2a5cf0"/></linearGradient>
<linearGradient id="kyb" gradientUnits="userSpaceOnUse" x1="620" y1="425" x2="650" y2="462">
<stop offset="0" stop-color="#4fadf5"/><stop offset="1" stop-color="#3587f1"/></linearGradient>
<path d="M606.1 435.4C605.0 434.2 604.8 436.3 601.2 439.2C597.6 442.1 598.5 441.0 595.4 444.1C592.3 447.2 593.5 445.5 592.0 448.5C590.5 451.5 591.1 450.0 591.0 453.0C590.9 456.0 590.4 454.0 591.7 457.5C593.0 461.0 591.9 459.8 594.8 463.4C597.7 467.0 595.9 465.5 600.5 468.3C605.1 471.1 602.7 470.3 608.6 471.9C614.5 473.5 611.6 473.0 618.3 473.1C625.0 473.2 621.5 473.5 628.8 472.3C636.1 471.1 633.0 472.4 640.1 469.4C647.2 466.4 644.8 467.1 650.2 463.3C655.6 459.5 652.6 462.4 656.3 458.0C660.0 453.6 658.6 456.2 661.3 450.2C664.0 444.2 663.1 446.2 664.3 440.1C665.5 434.0 664.8 435.9 664.8 432.0C664.8 428.1 664.9 431.7 664.3 428.3C663.7 424.9 664.2 426.2 663.1 421.9C662.0 417.6 662.7 419.3 661.1 415.4C659.5 411.5 660.6 413.2 658.3 410.1C656.0 407.0 657.7 408.1 654.2 406.1C650.7 404.1 651.7 404.2 647.8 404.1C643.9 404.0 645.3 404.0 642.5 405.7C639.7 407.4 640.6 406.7 639.3 409.3C638.0 411.9 638.3 410.7 638.7 413.4C639.1 416.1 638.7 415.1 640.5 417.4C642.3 419.7 641.4 419.0 644.1 420.2C646.8 421.4 645.9 421.2 648.6 420.9C651.3 420.6 650.3 420.8 652.2 419.4C654.1 418.0 653.0 417.0 654.4 416.6C655.8 416.2 654.9 416.2 656.3 418.2C657.7 420.2 657.4 419.3 658.7 422.7C660.0 426.1 659.5 424.9 660.3 428.3C661.1 431.7 661.0 429.1 661.2 433.0C661.4 436.9 661.8 434.7 660.8 440.1C659.8 445.5 660.7 443.6 658.3 449.2C655.9 454.8 657.1 452.6 653.7 456.8C650.3 461.0 653.1 458.5 648.2 461.8C643.3 465.1 645.2 464.7 639.1 466.7C633.0 468.7 635.7 468.0 630.0 467.9C624.3 467.8 626.3 467.7 622.0 466.4C617.7 465.1 620.7 466.1 617.0 464.0C613.3 461.9 614.5 463.2 611.0 460.0C607.5 456.8 608.7 458.5 606.4 454.5C604.1 450.5 604.9 451.9 604.2 448.0C603.5 444.1 603.8 447.0 604.4 442.8C605.0 438.6 607.2 436.6 606.1 435.4Z" fill="url(#kyg3)"/>
<path d="M656.2 420.0 C655.6 417.6 655.0 416.4 654.0 414.9 C652.6 412.6 650.4 411.4 648.3 411.6 C646.0 411.9 644.6 413.8 644.9 416.3" fill="none" stroke="#f2faff" stroke-opacity="0.9" stroke-width="1.0" stroke-linecap="round"/>
<path d="M566.2 411.1C566.7 408.3 565.7 409.3 568.4 406.2C571.1 403.1 569.6 404.5 574.2 401.8C578.8 399.1 576.6 400.0 582.2 398.2C587.8 396.4 586.1 396.8 591.1 396.4C596.1 396.0 593.7 395.7 597.3 396.9C600.9 398.1 599.8 397.5 601.8 400.0C603.8 402.5 603.3 400.5 603.3 404.4C603.3 408.3 603.5 406.5 601.8 411.6C600.1 416.7 600.9 414.3 598.2 419.6C595.5 424.9 596.4 423.0 593.8 427.6C591.2 432.2 592.9 428.4 590.3 433.5C587.7 438.6 588.7 436.9 586.1 442.9C583.5 448.9 584.8 445.5 582.4 451.4C580.0 457.3 580.3 456.2 579.0 460.6C577.7 465.0 577.7 462.6 578.6 464.6C579.5 466.6 578.1 465.7 581.6 466.6C585.1 467.5 589.1 465.9 589.2 467.3C589.3 468.7 587.5 469.2 581.8 470.8C576.1 472.4 577.3 472.0 572.1 472.0C566.9 472.0 568.9 472.4 566.1 470.8C563.3 469.2 564.2 469.9 563.6 467.1C563.0 464.3 562.8 467.5 564.2 462.3C565.6 457.1 565.1 459.1 567.9 451.4C570.7 443.7 569.3 447.3 572.7 439.2C576.1 431.1 574.7 433.6 578.2 427.1C581.7 420.6 580.3 424.8 583.1 419.6C585.9 414.4 585.2 416.3 586.7 411.6C588.2 406.9 588.0 408.2 587.6 405.6C587.2 403.0 587.8 403.9 585.4 403.8C583.0 403.7 583.3 403.4 580.4 405.3C577.5 407.2 578.3 406.9 576.6 409.4C574.9 411.9 576.4 410.8 575.3 412.9C574.2 415.0 575.1 414.4 573.3 415.6C571.5 416.8 571.9 416.7 569.8 416.4C567.7 416.1 568.2 416.4 567.0 414.6C565.8 412.8 565.7 413.9 566.2 411.1Z" fill="url(#kyg)"/>
<path d="M576.0 410.4 C574.4 409.4 572.4 409.9 571.7 411.2 C571.2 412.3 571.8 413.2 572.6 413.3" fill="none" stroke="#f2fbfd" stroke-opacity="0.9" stroke-width="0.9" stroke-linecap="round"/>
<path d="M620.1 399.0C624.0 396.6 622.5 397.6 627.2 397.9C631.9 398.2 632.3 397.2 634.2 399.8C636.1 402.4 634.7 401.3 632.8 405.6C630.9 409.9 632.2 407.5 628.4 412.6C624.6 417.7 626.7 415.5 621.3 421.0C615.9 426.5 617.7 424.8 612.2 429.0C606.7 433.2 610.5 430.1 604.8 433.6C599.1 437.1 601.4 435.9 595.2 439.4C589.0 442.9 589.2 443.5 586.1 444.0C583.0 444.5 584.4 444.5 586.0 441.0C587.6 437.5 587.0 438.1 590.9 433.6C594.8 429.1 593.4 431.8 597.6 427.6C601.8 423.4 599.4 426.0 603.6 421.0C607.8 416.0 606.2 417.9 610.2 412.6C614.2 407.3 612.2 409.6 615.5 405.1C618.8 400.6 616.2 401.4 620.1 399.0Z" fill="url(#kyg2)"/>
<circle cx="635.5" cy="443.0" r="18.6" fill="#f4faff" stroke="#46a2f3" stroke-width="1.2"/>
<clipPath id="ballc"><circle cx="635.5" cy="443.0" r="16.9"/></clipPath>
<circle cx="635.5" cy="443.0" r="16.9" fill="#fbfdff"/>
<g clip-path="url(#ballc)" fill="url(#kyb)" stroke="url(#kyb)" stroke-width="0.5" stroke-linejoin="round"><path d="M630.42 439.39L636.73 437.45L641.58 440.85L641.09 446.18L635.27 450.06L629.45 445.70Z"/><path d="M636.73 431.15L642.55 429.70L646.13 433.09L645.75 438.91L641.58 440.56L637.02 437.26Z"/><path d="M647.39 432.12L650.79 435.52L653.21 442.30L651.76 445.70L648.85 443.27L647.10 438.42Z"/><path d="M621.70 436.48L626.55 435.03L629.65 439.39L629.26 445.70L625.58 448.12L621.21 444.24Z"/><path d="M629.94 427.27L635.27 425.82L641.09 426.79L640.32 429.70L636.24 430.47L630.62 429.89Z"/><path d="M618.79 435.52L622.18 430.18L628.00 427.56L629.65 429.70L626.35 434.55L621.50 436.29Z"/><path d="M635.27 450.55L641.09 446.67L645.16 449.09L645.45 453.45L641.09 457.62L635.27 456.07Z"/><path d="M646.13 449.09L651.95 446.18L653.21 448.12L650.79 453.94L646.13 457.33L645.94 453.45Z"/><path d="M618.59 447.15L621.21 445.41L625.28 448.90L626.74 455.10L623.64 456.85L620.24 452.48Z"/><path d="M627.03 456.65L634.50 456.85L637.41 458.98L634.50 460.92L629.26 459.76Z"/><path d="M617.82 438.42L620.73 436.68L620.92 444.24L618.21 446.18Z"/><path d="M642.06 458.30L645.45 457.82L644.00 459.76L641.09 460.73Z"/><path d="M643.03 427.27L646.42 429.70L646.72 432.12L643.22 429.50Z"/></g>
<circle cx="635.5" cy="443.0" r="16.6" fill="none" stroke="#4da6f4" stroke-width="0.9"/>
<text class="cjk" transform="translate(676.0 438.9) scale(1.066 1)" x="0" y="0" style="font-size:37.6px;font-weight:700;fill:#14254f;letter-spacing:-0.3px">开云体育</text>
<text transform="translate(679.1 468.7) scale(1.12 1.045)" x="0" y="0" style="font-size:21.8px;font-weight:400;fill:#14254f;stroke:#14254f;stroke-width:0.62px;stroke-linejoin:round;letter-spacing:3.0px">kaiyun.com</text>
</g>
</svg>
</body></html>
